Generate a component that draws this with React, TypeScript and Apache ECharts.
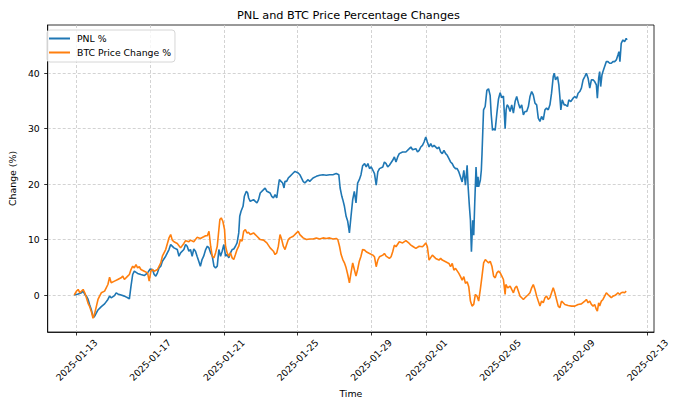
import React, { useEffect, useRef } from "react";
import * as echarts from "echarts";

// Hours after 2025-01-13 00:00 UTC, value in %
const START_DATE = "2025-01-13T00:00:00Z";

const tickDates = [
  "2025-01-13", "2025-01-17", "2025-01-21", "2025-01-25", "2025-01-29",
  "2025-02-01", "2025-02-05", "2025-02-09", "2025-02-13",
];
const yTicks = [0, 10, 20, 30, 40];

const pnlPoints: [number, number][] = [
  [-3, 0], [2.2, 0.2], [6.5, 0.4], [8.6, 0.7], [10.8, 0.1], [12.9, -0.2], [15.1, -0.8], [17.2, -1.8], [19.4, -2.7], [21.5, -3.9], [22.8, -4.0], [24.5, -3.6], [28, -2.7], [32.3, -2.1], [36.6, -1.6], [40.9, -0.8], [43.1, -0.2], [45.2, -0.5], [49.5, -0.1], [51.7, 0.4], [53.8, 0.2], [58.1, 0], [62.4, -0.2], [66.7, -0.5], [68.9, -0.7], [71, 1.6], [73.2, 3.7], [75.3, 4.3], [79.6, 3.9], [83.9, 3.7], [88.3, 3.5], [92.6, 4.0], [96, 4.7], [99, 4.6], [101.2, 3.7], [103.3, 3.4], [105.5, 4.0], [107.6, 4.9], [109.8, 5.2], [111.9, 6.1], [116.2, 7.0], [120.5, 8.2], [122.7, 9.1], [127, 8.5], [131.3, 8.2], [133.5, 7.0], [135.6, 7.6], [139.9, 8.2], [142.1, 9.1], [144.2, 8.8], [146.4, 7.9], [148.5, 8.2], [150.7, 7.0], [152.8, 8.3], [155, 7.9], [157.1, 7.0], [159.3, 6.1], [161.4, 5.2], [163.6, 6.4], [165.7, 7.0],
  [168.3, 8.2], [170.5, 8.8], [172.6, 8.5], [174.8, 7.6], [176.9, 7.0], [179.1, 5.2], [181.2, 4.9], [183.4, 5.2], [185.5, 8.2], [187.7, 7.0], [189.8, 7.9], [192, 9.1], [194.2, 7.0], [196.3, 7.3], [198.5, 6.7], [200.6, 7.6], [202.8, 8.2], [204.9, 8.3], [207.1, 8.8], [209.2, 9.4], [211.4, 11.2], [212.7, 14.2], [214.4, 15.1], [217, 16.0], [218.7, 17.8], [221.3, 18.7], [223, 18.4], [224.3, 17.5], [226.4, 16.9], [230.7, 17.2], [235.1, 16.6], [237.2, 17.2], [239.4, 18.4], [243.7, 19.0], [245.8, 19.3], [248, 18.7], [252.3, 18.4], [254.4, 17.8], [256.6, 17.5], [258.7, 18.1], [260.9, 17.5], [263, 19.6], [264.3, 20.8], [266.5, 20.5], [268.6, 20.2], [270.4, 19.3], [271.6, 20.5], [273.8, 20.5], [275.9, 21.1], [278.1, 21.4], [280.2, 21.7], [282.4, 22.0], [284.6, 22.3], [288.9, 22.0], [291, 21.7], [295.3, 20.5], [297.5, 20.2], [299.6, 20.5], [301.8, 20.8], [303.9, 20.5], [308.2, 21.1], [312.5, 21.4], [316.8, 21.6], [321.2, 21.7], [325.5, 21.6], [329.8, 21.7], [334.1, 21.7], [338.4, 21.9], [341.8, 21.7], [343.5, 19.3], [345.7, 17.8], [347, 17.2], [349.1, 16.0], [351.3, 14.2], [353.4, 13.3], [355.6, 11.2], [357.7, 14.2], [359.9, 17.2], [362, 18.7], [364.2, 16.6], [366.3, 20.2], [368.5, 20.8], [370.7, 21.7], [372.8, 23.3],
  [375.4, 23.7], [377.5, 23.1], [379.7, 23.7], [381.8, 22.8], [384, 23.1], [386.2, 22.5], [388.3, 21.9], [390.5, 19.8], [392.6, 22.2], [394.8, 22.8], [399.1, 23.1], [401.2, 24.0], [403.4, 23.7], [405.5, 23.1], [407.7, 23.4], [412, 24.3], [414.2, 24.9], [416.3, 24.0], [418.5, 24.9], [420.6, 25.5], [424.9, 25.8], [429.2, 25.8], [433.6, 26.4], [435.7, 26.7], [437.9, 26.2], [442.2, 26.4], [444.3, 25.8], [446.5, 26.1], [448.6, 26.7], [450.8, 27.0], [452.9, 27.6], [455.1, 28.5], [457.2, 27.6], [459.4, 26.7], [461.6, 27.3], [463.7, 26.7], [465.9, 27.0], [470.2, 26.4], [472.3, 26.7], [474.5, 25.8], [476.6, 25.5], [478.8, 26.1], [481, 25.5], [483.1, 25.2], [485.3, 24.6], [487.4, 24.0], [489.6, 23.7], [491.7, 23.1], [493.9, 22.8], [496, 22.8], [498.2, 22.2], [500.4, 21.3], [502.5, 20.4], [504.7, 22.5], [506.8, 19.8], [509, 23.4], [510.3, 19.5], [512, 15.9], [513.3, 13.5], [514.6, 7.8], [516.3, 13.5], [517.6, 10.8], [518.9, 16.5], [520.6, 23.1], [521.9, 19.5], [523.2, 21.3], [524, 19.5], [526.2, 20.7], [527.5, 22.5], [528.4, 25.5],
  [530.4, 33.4], [532.5, 34.0], [534.7, 36.9], [536.9, 37.2], [539, 36.0], [540.3, 32.7], [542.1, 29.7], [543.8, 30.0], [545.5, 29.7], [547.7, 32.7], [549.8, 35.3], [552, 36.5], [554.2, 35.6], [556.3, 35.9], [558.5, 30.0], [559.8, 33.4], [561.1, 34.3], [562.8, 34.0], [565, 33.1], [567.1, 34.3], [569.3, 32.8], [571.5, 34.9], [573.6, 35.8], [575.8, 34.6], [577.9, 33.7], [580.1, 34.3], [582.3, 32.5], [584.4, 33.1], [586.6, 33.1], [588.8, 34.0], [590.9, 35.8], [593.1, 36.7], [595.2, 36.1], [597.4, 34.6], [599.6, 34.3], [601.7, 31.9], [603.9, 31.3], [606, 32.2], [608.2, 31.6], [610.4, 33.4], [612.5, 33.7], [614.7, 33.4], [616.9, 34.3], [619, 36.4], [621.2, 39.4], [622.5, 40.0], [624.2, 38.8], [626.8, 39.4], [628.5, 37.9], [629.8, 35.8], [631.1, 33.4], [632.9, 35.2], [635.5, 34.3], [637.2, 34.3], [639.8, 34.0], [641.5, 35.2], [644.1, 34.9], [647.1, 35.5], [649.3, 35.8], [651.5, 35.5], [653.6, 36.4], [655.8, 36.7], [657.9, 37.3], [660.1, 38.8], [662.3, 39.4], [664.4, 40.0], [666.6, 39.1], [668.8, 37.3], [670.9, 38.8], [673.1, 38.8], [675.2, 38.5], [677.4, 37.9], [678.7, 35.5], [680.4, 39.1], [681.7, 40.3], [683, 37.6], [684.7, 39.7], [686, 40.3], [688.2, 41.2], [690.4, 42.1], [692.5, 42.1], [694.7, 41.8], [696.9, 41.8], [699, 42.1], [701.2, 42.1], [703.4, 42.4], [705.5, 43.3], [706.8, 43.9], [708.1, 42.1], [709.8, 45.4], [712, 46.0], [714.2, 45.7], [716.3, 46.3], [717.2, 46.0],
];

const btcPoints: [number, number][] = [
  [-3, 0], [0, 0.7], [2.2, 1.0], [4.3, 0.4], [8.6, 1.0], [10.8, 0.4], [12.9, -0.5], [15.1, -1.5], [17.2, -2.1], [19.4, -3.0], [21.5, -4.2], [23.7, -3.3], [25.8, -2.1], [28, -0.8], [30.1, -0.2], [32.3, 0.4], [36.6, 0.7], [40.9, 1.9], [43.1, 3.2], [45.2, 2.2], [49.5, 2.5], [53.8, 2.8], [58.1, 3.1], [60.3, 3.4], [62.4, 2.8], [66.7, 3.4], [68.9, 3.7], [71, 4.6], [73.2, 5.2], [75.3, 4.9], [77.5, 5.5], [79.6, 4.9], [81.8, 5.1], [83.9, 4.6], [88.3, 4.3], [92.6, 4.0], [94.7, 2.5], [96.9, 4.3], [99, 4.6], [101.2, 4.3], [105.5, 4.6], [109.8, 5.8], [111.9, 7.0], [116.2, 8.2], [120.5, 10.3], [122.7, 10.9], [124.8, 9.9], [127, 9.6], [131.3, 9.3], [135.6, 8.5], [139.9, 9.3], [142.1, 9.8], [146.4, 9.6], [148.5, 9.9], [152.8, 9.6], [157.1, 10.4], [161.4, 10.2], [165.7, 10.5],
  [168.3, 10.7], [170.5, 10.7], [172.6, 11.5], [174.8, 8.8], [176.9, 7.0], [179.1, 6.7], [181.2, 7.6], [183.4, 8.8], [185.5, 11.8], [186.8, 13.6], [188.6, 13.9], [190.7, 13.3], [192.9, 11.8], [194.2, 8.8], [196.3, 7.6], [198.5, 7.0], [200.6, 7.6], [202.8, 6.7], [204.9, 6.4], [207.1, 7.3], [209.2, 8.2], [211.4, 8.8], [213.5, 10.0], [215.7, 9.7], [217.8, 11.5], [220, 11.8], [222.1, 11.2], [224.3, 11.3], [226.4, 10.9], [230.7, 11.2], [235.1, 10.6], [239.4, 10.0], [243.7, 9.9], [248, 9.4], [252.3, 8.5], [256.6, 7.9], [258.7, 7.3], [260.9, 7.6], [263, 8.8], [265.2, 10.9], [267.4, 10.0], [269.5, 8.8], [271.7, 8.2], [273.8, 9.1], [276, 10.0], [278.1, 10.3], [282.4, 10.6], [286.7, 11.2], [288.9, 11.5], [291, 10.9], [295.3, 10.3], [299.6, 10.0], [303.9, 10.1], [308.2, 10.1], [312.5, 10.3], [316.8, 10.1], [321.2, 10.3], [325.5, 10.2], [329.8, 10.3], [334.1, 10.1], [338.4, 10.2], [340.5, 10.0], [342.7, 8.8], [344.8, 7.3], [347, 6.4], [349.1, 5.8], [351.3, 4.9], [353.4, 3.7], [355.6, 2.2], [357.7, 4.0], [359.9, 5.8], [362, 4.6], [364.2, 3.4], [366.3, 4.6], [368.5, 6.1], [370.7, 7.0], [372.8, 8.2],
  [375.4, 8.1], [377.5, 7.8], [381.8, 7.5], [386.2, 7.2], [388.3, 6.9], [390.5, 5.1], [392.6, 6.3], [394.8, 6.9], [399.1, 7.2], [401.2, 7.5], [403.4, 7.0], [407.7, 6.6], [409.9, 6.9], [412, 7.8], [414.2, 9.0], [416.3, 8.7], [420.6, 9.6], [424.9, 9.4], [429.2, 9.8], [433.6, 9.3], [435.7, 9.0], [437.9, 8.8], [442.2, 8.4], [446.5, 8.8], [450.8, 8.7], [452.9, 9.0], [455.1, 9.4], [457.2, 8.7], [459.4, 6.3], [463.7, 7.2], [468, 6.6], [472.3, 6.3], [474.5, 6.6], [476.6, 6.3], [481, 6.0], [485.3, 5.7], [487.4, 5.1], [489.6, 5.7], [491.7, 4.5], [493.9, 4.8], [498.2, 3.9], [500.4, 3.3], [502.5, 2.7], [504.7, 3.3], [506.8, 2.1], [509, 2.4], [511.1, 1.5], [513.3, -1.1], [515.4, -2.0], [517.6, -1.7], [519.7, 0.1], [521.9, -0.2], [524, -1.1], [526.2, 1.0], [528.4, 3.4], [530.5, 5.8], [532.7, 6.4], [534.8, 6.1], [537, 5.8], [539.1, 6.1], [541.3, 5.2], [543.5, 3.4], [545.6, 3.1], [547.8, 4.0], [549.9, 4.3], [552.1, 4.0],
  [554.2, 3.4], [556.3, 2.8], [558.5, 0.1], [559.4, 1.9], [561.9, 1.3], [565, 1.6], [567.1, 1.0], [569.3, 0.4], [571.5, 1.3], [573.6, 1.6], [575.8, 0.7], [577.9, -0.2], [580.1, -0.5], [582.3, -0.8], [584.4, -0.5], [588.8, 0.1], [590.9, 0.4], [593.1, 1.3], [595.2, 1.9], [597.4, 1.0], [599.6, -0.2], [601.7, -1.1], [603.9, -2.0], [606, -1.1], [608.2, -1.4], [610.4, -0.5], [612.5, -0.2], [614.7, -0.8], [616.9, -0.5], [619, 0.4], [621.2, 1.3], [623.3, 0.4], [625.5, -0.8], [627.7, -2.0], [629.8, -2.3], [632, -1.1], [634.2, -1.4], [636.3, -1.7], [640.6, -1.9], [645, -2.0], [649.3, -2.0], [653.6, -1.7], [657.9, -1.6], [662.3, -1.1], [664.4, -0.8], [666.6, -1.4], [668.8, -1.1], [670.9, -1.7], [673.1, -2.0], [675.2, -1.7], [677.4, -2.6], [678.7, -2.9], [680.4, -1.4], [681.7, -2.0], [683.9, -1.1], [686, -0.8], [688.2, -0.2], [690.4, 0.4], [692.5, 0.1], [694.7, -0.2], [696.9, -0.5], [699, -0.2], [701.2, -0.1], [703.4, 0.1], [705.5, 0.4], [707.7, 0.1], [709.8, 0.4], [712, 0.5], [714.2, 0.4], [716.3, 0.7],
];

const HOUR = 3600000;
const START = Date.parse(START_DATE);
const hourOf = (d: string) => (Date.parse(d + "T00:00:00Z") - START) / HOUR;
const dateOfHour = (h: number) => new Date(START + Math.round(h) * HOUR).toISOString().slice(0, 10);

const FONT = "DejaVu Sans";

export default function App() {
  const ref = useRef<HTMLDivElement>(null);
  useEffect(() => {
    document.body.style.margin = "0";
    const chart = echarts.init(ref.current!, null, { renderer: "svg" });
    const xTicks = tickDates.map(hourOf);
    chart.setOption({
      animation: false,
      backgroundColor: "#fff",
      textStyle: { fontFamily: FONT },
      title: {
        text: "PNL and BTC Price Percentage Changes",
        left: 343.5,
        top: 5,
        textAlign: "center",
        textStyle: { fontFamily: FONT, fontSize: 11.3, fontWeight: "normal", color: "#000" },
      },
      legend: {
        orient: "vertical",
        left: 47,
        top: 30,
        padding: [4, 4, 5, 2],
        itemGap: 5,
        itemWidth: 21,
        itemHeight: 2,
        icon: "rect",
        backgroundColor: "rgba(255,255,255,0.8)",
        borderColor: "#d6d6d6",
        borderWidth: 1,
        borderRadius: 3,
        textStyle: { fontFamily: FONT, fontSize: 9.3, color: "#000", padding: [0, 0, 0, 2] },
        data: ["PNL %", "BTC Price Change %"],
      },
      grid: {
        left: 43,
        right: 26,
        top: 25,
        bottom: 76,
        show: true,
        borderColor: "#000",
        borderWidth: 0.8,
        containLabel: false,
      },
      xAxis: {
        type: "value",
        min: -37.5,
        max: 752.5,
        name: "Time",
        nameLocation: "middle",
        nameGap: 54,
        nameTextStyle: { fontFamily: FONT, fontSize: 9.4, color: "#000" },
        axisLine: { show: true, onZero: false, lineStyle: { color: "#000", width: 0.8 } },
        axisTick: { show: true, length: 3.5, lineStyle: { color: "#000", width: 0.8 }, customValues: xTicks },
        axisLabel: {
          customValues: xTicks,
          rotate: 45,
          align: "center",
          verticalAlign: "middle",
          margin: 28,
          fontFamily: FONT,
          fontSize: 9.3,
          color: "#000",
          hideOverlap: false,
          showMinLabel: true,
          showMaxLabel: true,
          formatter: (v: number) => dateOfHour(v),
        },
        splitLine: { show: true, lineStyle: { color: "#c8c8c8", width: 0.8, type: [3, 2] } },
      },
      yAxis: {
        type: "value",
        min: -6.67,
        max: 48.7,
        name: "Change (%)",
        nameLocation: "middle",
        nameGap: 25,
        nameTextStyle: { fontFamily: FONT, fontSize: 9.4, color: "#000" },
        axisLine: { show: true, onZero: false, lineStyle: { color: "#000", width: 0.8 } },
        axisTick: { show: true, length: 3.5, lineStyle: { color: "#000", width: 0.8 }, customValues: yTicks },
        axisLabel: { customValues: yTicks, margin: 8, fontFamily: FONT, fontSize: 9.3, color: "#000" },
        splitLine: { show: true, lineStyle: { color: "#c8c8c8", width: 0.8, type: [3, 2] } },
      },
      series: [
        {
          name: "PNL %",
          type: "line",
          data: pnlPoints,
          showSymbol: false,
          symbol: "none",
          color: "#1f77b4",
          lineStyle: { color: "#1f77b4", width: 1.6 },
        },
        {
          name: "BTC Price Change %",
          type: "line",
          data: btcPoints,
          showSymbol: false,
          symbol: "none",
          color: "#ff7f0e",
          lineStyle: { color: "#ff7f0e", width: 1.6 },
        },
      ],
    });
    return () => chart.dispose();
  }, []);
  return <div ref={ref} style={{ width: 680, height: 408 }} />;
}
